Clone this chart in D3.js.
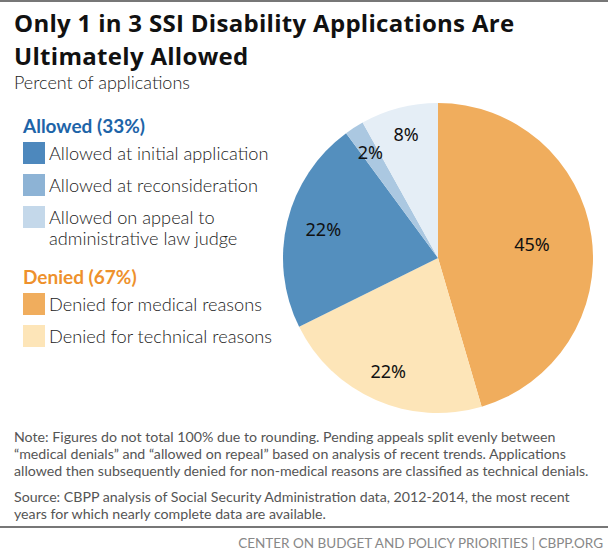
<!DOCTYPE html>
<html><head><meta charset="utf-8">
<script src="https://cdn.jsdelivr.net/npm/d3@7"></script>
<style>
body{margin:0;background:#fff;}
svg{display:block;}
</style></head>
<body>
<svg id="chart" width="608" height="560"></svg>
<script>
const categories = ["Denied for medical reasons","Denied for technical reasons","Allowed at initial application","Allowed at reconsideration","Allowed on appeal to administrative law judge"];
const values = [45, 22, 22, 2, 8];
const sliceColors = ["#f0ad5d","#fde5b8","#548fbe","#abc8e1","#e5eef6"];
const legendGroups = ["Allowed (33%)","Denied (67%)"];
const legendGroupColors = ["#1d64a8","#ee912c"];
const allowedItems = [["Allowed at initial application"],["Allowed at reconsideration"],["Allowed on appeal to","administrative law judge"]];
const allowedColors = ["#4d88bd","#8db3d5","#c4d8ea"];
const deniedItems = [["Denied for medical reasons"],["Denied for technical reasons"]];
const deniedColors = ["#f0ad5d","#fde5b8"];
const title = ["Only 1 in 3 SSI Disability Applications Are","Ultimately Allowed"];
const subtitle = "Percent of applications";
const notes = ["Note: Figures do not total 100% due to rounding. Pending appeals split evenly between","\u201cmedical denials\u201d and \u201callowed on repeal\u201d based on analysis of recent trends. Applications","allowed then subsequently denied for non-medical reasons are classified as technical denials."];
const sources = ["Source: CBPP analysis of Social Security Administration data, 2012-2014, the most recent","years for which nearly complete data are available."];
const footer = "CENTER ON BUDGET AND POLICY PRIORITIES | CBPP.ORG";

const svg = d3.select("#chart");
const F = "Lato, 'Open Sans', sans-serif";

// top rule
svg.append("rect").attr("x",0).attr("y",0).attr("width",608).attr("height",2).attr("fill","#777");

// title
svg.selectAll("text.title").data(title).join("text").attr("class","title")
  .attr("x",14).attr("y",(d,i)=>32+i*33)
  .attr("font-family","'Open Sans', sans-serif").attr("font-weight",700).attr("font-size",24).attr("fill","#111")
  .attr("letter-spacing",0.3)
  .text(d=>d);
svg.append("text").attr("x",14).attr("y",89).attr("font-family",F).attr("font-weight",300)
  .attr("font-size",18).attr("fill","#222").text(subtitle);

// legend
function legendBlock(headY, head, color, items, colors){
  svg.append("text").attr("x",23).attr("y",headY).attr("font-family",F).attr("font-weight",700)
    .attr("font-size",19).attr("fill",color).text(head);
  let y = headY + 9;
  items.forEach((lines,i)=>{
    svg.append("rect").attr("x",23).attr("y",y).attr("width",22).attr("height",22).attr("fill",colors[i]);
    lines.forEach((l,j)=>{
      svg.append("text").attr("x",49).attr("y",y+18+j*21).attr("font-family",F).attr("font-weight",300)
        .attr("font-size",18.2).attr("fill","#222").text(l);
    });
    y += 32;
  });
}
legendBlock(133, legendGroups[0], legendGroupColors[0], allowedItems, allowedColors);
legendBlock(284, legendGroups[1], legendGroupColors[1], deniedItems, deniedColors);

// pie
const cx = 438, cy = 258, R = 155;
const pie = d3.pie().sort(null).value(d=>d)(values);
const arc = d3.arc().innerRadius(0).outerRadius(R);
const g = svg.append("g").attr("transform",`translate(${cx},${cy})`);
g.selectAll("path").data(pie).join("path").attr("d",arc).attr("fill",(d,i)=>sliceColors[i]);
const labelR = [95, 124, 118, 125, 127];
g.selectAll("text").data(pie).join("text")
  .attr("transform",(d,i)=>{
    const a = (d.startAngle+d.endAngle)/2;
    return `translate(${Math.sin(a)*labelR[i]},${-Math.cos(a)*labelR[i]})`;
  })
  .attr("text-anchor","middle").attr("dy","0.35em")
  .attr("font-family","'Noto Sans', sans-serif").attr("font-size",18).attr("fill","#111")
  .text(d=>d.value+"%");

// notes
svg.selectAll("text.note").data(notes.concat([""]).concat(sources)).join("text").attr("class","note")
  .attr("x",14).attr("y",(d,i)=> i<3 ? 442+i*17 : 502+(i-4)*17)
  .attr("font-family",F).attr("font-size",14.2).attr("fill","#555").text(d=>d);

// bottom rule + footer
svg.append("rect").attr("x",0).attr("y",526).attr("width",608).attr("height",2).attr("fill","#777");
svg.append("text").attr("x",603).attr("y",548).attr("text-anchor","end")
  .attr("font-family",F).attr("font-size",13.5).attr("letter-spacing",0).attr("fill","#888").text(footer);
</script>
</body></html>
